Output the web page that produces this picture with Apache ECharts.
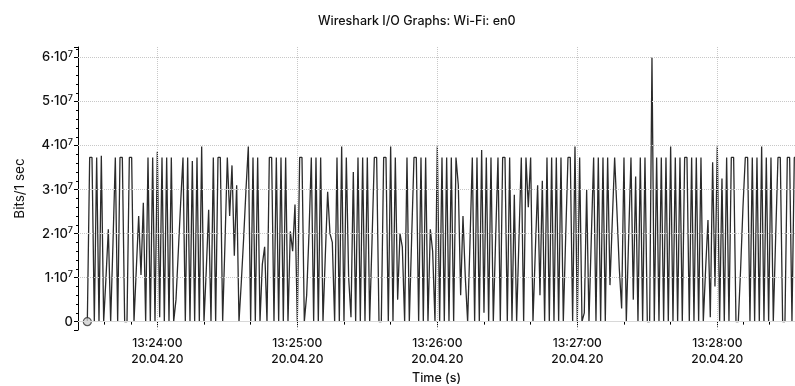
<!DOCTYPE html>
<html>
<head>
<meta charset="utf-8">
<script src="https://cdn.jsdelivr.net/npm/echarts@6/dist/echarts.min.js"></script>
<style>
  html, body { margin: 0; padding: 0; background: #fff; }
  #chart { width: 795px; height: 386px; }
</style>
</head>
<body>
<div id="chart"></div>
<script>
// sampled every second, starting 20.04.20 13:23:30
const startTime = new Date(2020, 3, 20, 13, 23, 30).getTime()
const stepMs = 1000

// Bits per second, in units of 10^7
const bitsE7 = [
  0, 3.73, 3.73, 0, 3.73, 0, 3.77, 0, 1.0, 2.1,
  0, 1.8, 3.73, 0, 3.73, 3.73, 0, 0, 3.73, 3.73,
  0, 1.2, 2.4, 1.06, 2.7, 0, 3.73, 0, 3.73, 0,
  3.86, 0.1, 3.73, 0, 3.73, 0, 3.73, 0, 0.5, 1.6,
  2.7, 3.73, 0, 3.73, 0, 3.65, 0, 3.73, 0, 3.98,
  0, 1.2, 2.54, 0, 3.73, 0, 3.73, 3.73, 0, 1.8,
  3.73, 2.4, 3.55, 1.5, 3.1, 0, 0.9, 1.9, 3.0, 3.98,
  0, 3.73, 0, 3.73, 0, 1.3, 1.7, 0, 3.73, 3.73,
  0, 3.73, 0, 3.73, 0, 3.73, 0, 2.05, 1.6, 2.66,
  0, 3.73, 3.73, 0, 0.6, 2.0, 3.73, 0, 3.73, 0,
  3.73, 0, 1.5, 2.95, 2.0, 1.8, 0, 3.73, 0, 3.98,
  0, 3.73, 1.0, 0.1, 3.4, 0, 3.73, 0, 3.73, 0,
  3.73, 0, 1.8, 3.73, 3.73, 0, 0, 3.73, 3.73, 0,
  3.98, 0, 3.73, 0.5, 2.0, 1.7, 0, 3.73, 0, 1.9,
  3.73, 3.73, 0, 3.73, 0, 3.73, 0, 2.1, 1.6, 0,
  3.98, 0, 3.73, 0, 3.73, 0, 3.73, 0, 3.73, 3.1,
  0.6, 2.4, 1.0, 0, 1.8, 3.73, 0, 3.73, 0, 3.9,
  0.2, 3.73, 0, 3.73, 0, 1.9, 3.73, 0, 3.73, 3.73,
  0, 3.73, 0, 2.88, 0, 1.9, 3.73, 0, 3.73, 2.6,
  3.73, 0, 1.6, 3.1, 0.6, 3.2, 0, 3.73, 0, 3.73,
  0, 3.73, 0, 3.73, 0, 1.9, 3.73, 3.73, 0, 3.98,
  0, 3.73, 0, 0.2, 2.99, 0, 1.9, 3.73, 0, 3.73,
  0, 3.73, 0, 3.73, 0.83, 2.3, 3.73, 2.5, 1.2, 0.3,
  3.73, 0, 1.9, 3.73, 0.5, 3.3, 0, 3.73, 0, 3.73,
  0, 0, 6.0, 0, 3.73, 0, 3.73, 0, 3.73, 0,
  3.98, 0, 3.73, 0, 3.73, 0, 3.73, 3.73, 0, 3.73,
  0, 3.73, 0, 3.73, 0, 1.2, 2.31, 0.1, 3.62, 0.8,
  3.98, 0, 3.25, 0, 3.73, 0, 3.73, 3.73, 0, 0,
  1.2, 2.6, 3.73, 3.73, 0, 3.73, 0, 3.73, 0, 3.98,
  0, 3.73, 0, 3.73, 0, 1.9, 3.73, 3.73, 0, 0,
  3.73, 3.73, 0, 3.73, 3.73
]

// gridlines
const yGridValues = [1, 2, 3, 4, 5, 6]
const minuteMarks = [
  new Date(2020, 3, 20, 13, 24, 0).getTime(),
  new Date(2020, 3, 20, 13, 25, 0).getTime(),
  new Date(2020, 3, 20, 13, 26, 0).getTime(),
  new Date(2020, 3, 20, 13, 27, 0).getTime(),
  new Date(2020, 3, 20, 13, 28, 0).getTime()
]

const xMin = startTime - 4000
const xMax = startTime + 303300

const pad = n => (n < 10 ? '0' : '') + n

const chart = echarts.init(document.getElementById('chart'))
const fontFam = 'Inter, Liberation Sans, sans-serif'

const seriesData = bitsE7.map((v, i) => [startTime + i * stepMs, v])

const option = {
  animation: false,
  title: {
    text: 'Wireshark I/O Graphs: Wi-Fi: en0',
    left: 313,
    top: 10,
    textStyle: { fontSize: 12.5, fontWeight: 500, color: '#111', fontFamily: fontFam }
  },
  grid: { left: 78, right: 0, top: 47, bottom: 56, outerBoundsMode: 'none', containLabel: false },
  xAxis: {
    type: 'time',
    min: xMin,
    max: xMax,
    minInterval: 60000,
    maxInterval: 60000,
    name: 'Time (s)',
    nameLocation: 'middle',
    nameGap: 38,
    nameTextStyle: { fontSize: 12.5, fontWeight: 500, color: '#111', fontFamily: fontFam },
    axisLine: { lineStyle: { color: '#000', width: 1 } },
    axisTick: { show: true, length: 5, lineStyle: { color: '#000' } },
    minorTick: { show: true, splitNumber: 3, length: 3, lineStyle: { color: '#000' } },
    splitLine: { show: false },
    axisLabel: {
      showMinLabel: false,
      showMaxLabel: false,
      margin: 5,
      fontSize: 12,
      fontWeight: 500,
      lineHeight: 16,
      color: '#111',
      fontFamily: fontFam,
      formatter: function (val) {
        const d = new Date(val)
        if (d.getSeconds() !== 0) return ''
        return pad(d.getHours()) + ':' + pad(d.getMinutes()) + ':00\n' +
          pad(d.getDate()) + '.' + pad(d.getMonth() + 1) + '.' + String(d.getFullYear()).slice(2)
      }
    }
  },
  yAxis: {
    type: 'value',
    min: -0.19,
    max: 6.24,
    splitNumber: 6,
    name: 'Bits/1 sec',
    nameLocation: 'middle',
    nameRotate: 90,
    nameGap: 51,
    nameTextStyle: { fontSize: 13.5, color: '#111', fontFamily: fontFam },
    axisLine: { show: true, lineStyle: { color: '#000', width: 1 } },
    axisTick: { show: true, length: 4, lineStyle: { color: '#000' } },
    minorTick: { show: true, splitNumber: 5, length: 2, lineStyle: { color: '#000' } },
    splitLine: { show: false },
    axisLabel: {
      showMinLabel: false,
      showMaxLabel: false,
      margin: 5,
      color: '#111',
      fontFamily: fontFam,
      fontWeight: 500,
      fontSize: 13,
      rich: {
        m: { fontSize: 13, fontWeight: 500, color: '#111', fontFamily: fontFam, lineHeight: 15 },
        s: { fontSize: 9, fontWeight: 500, color: '#111', fontFamily: fontFam, lineHeight: 9, verticalAlign: 'top' }
      },
      formatter: function (v) {
        if (Math.abs(v - Math.round(v)) > 1e-6) return ''
        const n = Math.round(v)
        if (n === 0) return '{m|0}'
        return '{m|' + n + '·10}{s|7}'
      }
    }
  },
  series: [
    {
      type: 'line',
      data: seriesData,
      symbol: 'none',
      clip: true,
      lineStyle: { color: '#2b2b2b', width: 1.3 },
      markLine: {
        silent: true,
        symbol: 'none',
        label: { show: false },
        lineStyle: { color: '#c8c8c8', type: 'dotted', width: 1 },
        data: yGridValues.map(v => ({ yAxis: v }))
          .concat(minuteMarks.map(t => ({ xAxis: t })))
          .concat([{ yAxis: 0, lineStyle: { color: '#d8d8d8', type: 'solid', width: 1 } }])
      },
      z: 3
    },
    {
      type: 'scatter',
      data: [seriesData[0]],
      symbol: 'circle',
      symbolSize: 8,
      itemStyle: { color: '#cfcfcf', borderColor: '#333', borderWidth: 1.2 },
      z: 4
    }
  ]
}

chart.setOption(option)
</script>
</body>
</html>
